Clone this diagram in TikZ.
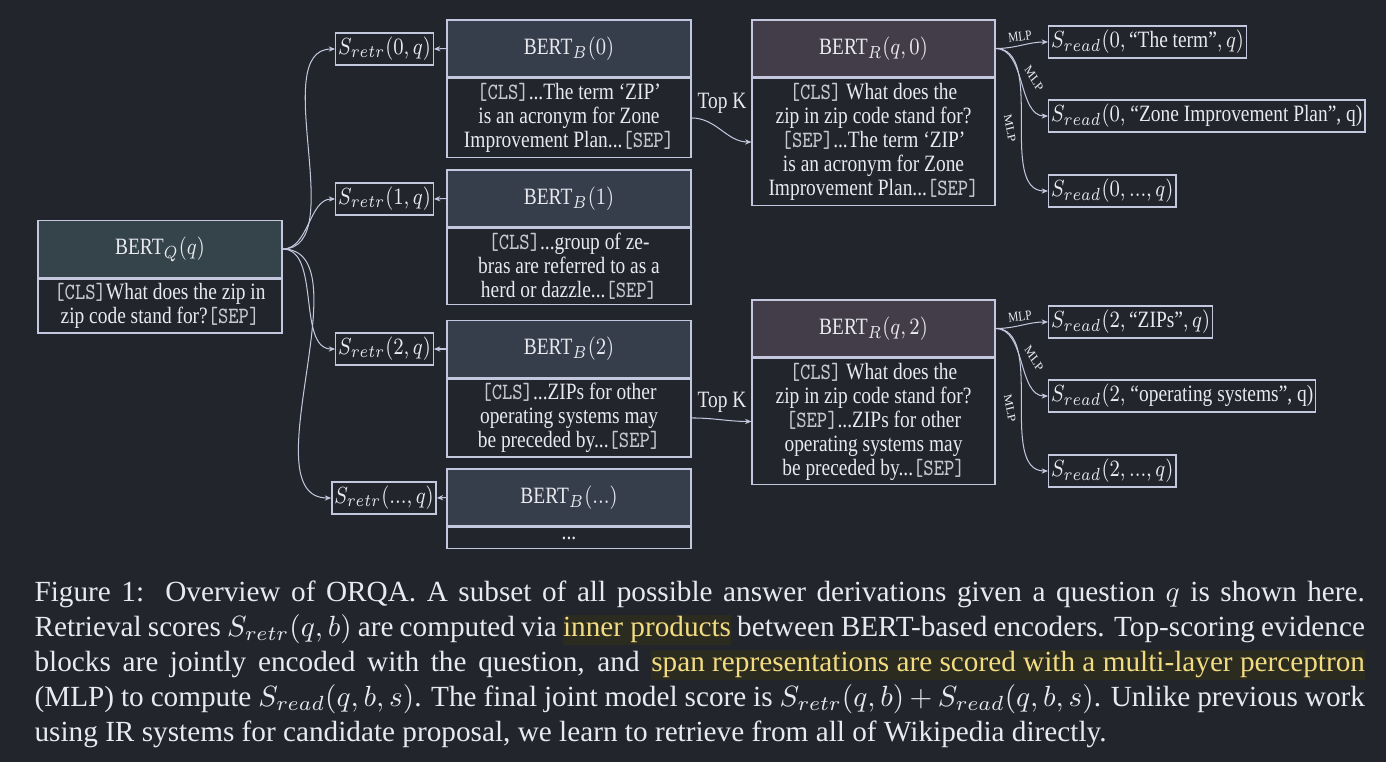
\documentclass[tikz,border=0pt]{standalone}
\usepackage{fontspec}
\setmainfont{Liberation Serif}
\usetikzlibrary{arrows.meta}
\definecolor{bgc}{HTML}{22252B}
\definecolor{hdrQ}{HTML}{35434A}
\definecolor{hdrB}{HTML}{363E4C}
\definecolor{hdrR}{HTML}{423D48}
\definecolor{bordc}{HTML}{C3C8DE}
\definecolor{txtc}{HTML}{E8EAF0}
\definecolor{ttc}{HTML}{C4C7D2}
\definecolor{hlbg}{HTML}{2C2B1F}
\definecolor{hlfg}{HTML}{F2DC82}
\newcommand\tk[1]{{\color{ttc}\texttt{#1}}}
\newcommand\hlt[1]{{\setlength{\fboxsep}{0pt}\colorbox{hlbg}{\vrule height 7.2pt depth 3pt width 0pt\color{hlfg}#1}}}
\begin{document}
\begin{tikzpicture}[x=0.41205pt,y=-0.342pt,xscale=0.83,
  every node/.style={text=txtc},
  dfont/.style={font=\fontsize{8}{8.2}\selectfont, transform shape},
  hdr/.style={dfont, draw=bordc, line width=0.5pt, minimum width={244*0.41205pt}, minimum height={57*0.342pt}, inner sep=0pt},
  bodyb/.style={dfont, draw=bordc, line width=0.5pt, fill=bgc, minimum width={244*0.41205pt}, inner sep=0pt, align=center, anchor=north},
  score/.style={dfont, draw=bordc, line width=0.5pt, minimum height={32*0.342pt}, inner xsep={2.5*0.41205pt}, inner ysep=0pt},
  arr/.style={draw=bordc, line width=0.35pt, -{Stealth[length=2.2pt,width=1.8pt]}},
  mlp/.style={font=\fontsize{4.7}{5}\selectfont, inner sep=0pt, transform shape},
  lbl/.style={dfont, inner sep=0pt}
]
\fill[bgc] (0,0) rectangle (1386,762);
\useasboundingbox (0,0) rectangle (1386,762);

% question encoder
\node[hdr, fill=hdrQ] (qh) at (160,249) {BERT$_Q(q)$};
\node[bodyb, minimum height={54*0.342pt}] (qb) at (qh.south) {\tk{[CLS]}What does the zip in\\zip code stand for?\tk{[SEP]}};

% block encoders
\node[hdr, fill=hdrB] (b0h) at (569,48.5) {BERT$_B(0)$};
\node[bodyb, minimum height={79*0.342pt}] (b0b) at (b0h.south) {\tk{[CLS]}...The term ‘ZIP’\\is an acronym for Zone\\Improvement Plan...\tk{[SEP]}};
\node[hdr, fill=hdrB] (b1h) at (569,198.5) {BERT$_B(1)$};
\node[bodyb, minimum height={76*0.342pt}] (b1b) at (b1h.south) {\tk{[CLS]}...group of ze-\\bras are referred to as a\\herd or dazzle...\tk{[SEP]}};
\node[hdr, fill=hdrB] (b2h) at (569,349) {BERT$_B(2)$};
\node[bodyb, minimum height={78*0.342pt}] (b2b) at (b2h.south) {\tk{[CLS]}...ZIPs for other\\operating systems may\\be preceded by...\tk{[SEP]}};
\node[hdr, fill=hdrB] (b3h) at (569,497.5) {BERT$_B(...)$};
\node[bodyb, minimum height={21*0.342pt}] (b3b) at (b3h.south) {...};

% retrieval scores
\node[score] (sr0) at (384.5,49) {$S_{retr}(0,q)$};
\node[score] (sr1) at (384.5,199) {$S_{retr}(1,q)$};
\node[score] (sr2) at (384.5,349) {$S_{retr}(2,q)$};
\node[score] (sr3) at (384,498) {$S_{retr}(...,q)$};

\foreach \i in {0,1,2,3} {
  \draw[arr] (qh.east) to[out=0,in=180] (sr\i.west);
  \draw[arr] (b\i h.west) -- (sr\i.east);
}

% reader encoders
\node[hdr, fill=hdrR, minimum width={243*0.41205pt}] (r0h) at (873.5,48.5) {BERT$_R(q,0)$};
\node[bodyb, minimum width={243*0.41205pt}, minimum height={127*0.342pt}] (r0b) at (r0h.south) {\tk{[CLS]} What does the\\zip in zip code stand for?\\\tk{[SEP]}...The term ‘ZIP’\\is an acronym for Zone\\Improvement Plan...\tk{[SEP]}};
\node[hdr, fill=hdrR, minimum width={243*0.41205pt}] (r2h) at (873.5,328.5) {BERT$_R(q,2)$};
\node[bodyb, minimum width={243*0.41205pt}, minimum height={126*0.342pt}] (r2b) at (r2h.south) {\tk{[CLS]} What does the\\zip in zip code stand for?\\\tk{[SEP]}...ZIPs for other\\operating systems may\\be preceded by...\tk{[SEP]}};

\draw[arr] (b0b.east) to[out=0,in=180] (r0b.west);
\draw[arr] (b2b.east) to[out=0,in=180] (r2b.west);
\node[lbl] (tk0) at (722,103) {Top K};
\node[lbl] (tk2) at (722,402) {Top K};

% reader scores
\node[score, anchor=west] (rd00) at (1048,42) {$S_{read}(0,\mbox{“The term”},q)$};
\node[score, anchor=west] (rd01) at (1048,116) {$S_{read}(0,$ “Zone Improvement Plan”, q)};
\node[score, anchor=west] (rd02) at (1048,191) {$S_{read}(0,...,q)$};
\node[score, anchor=west] (rd20) at (1048,322) {$S_{read}(2,\mbox{“ZIPs”},q)$};
\node[score, anchor=west] (rd21) at (1048,396) {$S_{read}(2,$ “operating systems”, q)};
\node[score, anchor=west] (rd22) at (1048,471) {$S_{read}(2,...,q)$};

\foreach \r/\dy in {0/48.5,2/328.5} {
  \draw[arr] (r\r h.east) to[out=0,in=180] (rd\r 0.west);
  \draw[arr] (r\r h.east) to[out=0,in=180] (rd\r 1.west);
  \draw[arr] (r\r h.east) to[out=0,in=180] (rd\r 2.west);
  \node[mlp, rotate=8] (m\r a) at (1020,\dy-12) {MLP};
  \node[mlp, rotate=-55] (m\r b) at (1034,\dy+30) {MLP};
  \node[mlp, rotate=-78] (m\r c) at (1010,\dy+80) {MLP};
}

% caption
\node[anchor=base west, text width=455pt, align=justify, inner sep=0pt, font=\fontsize{10}{12}\selectfont] (cap) at (34,601) {Figure 1:\ \ Overview of ORQA. A subset of all possible answer derivations given a question $q$ is shown here.\linebreak
Retrieval scores $S_{retr}(q,b)$ are computed via \hlt{inner products} between BERT-based encoders. Top-scoring evidence\linebreak
blocks are jointly encoded with the question, and \hlt{span representations are scored with a multi-layer perceptron}\linebreak
(MLP) to compute $S_{read}(q,b,s)$. The final joint model score is $S_{retr}(q,b) + S_{read}(q,b,s)$. Unlike previous work\linebreak
using IR systems for candidate proposal, we learn to retrieve from all of Wikipedia directly.};
\end{tikzpicture}
\end{document}
